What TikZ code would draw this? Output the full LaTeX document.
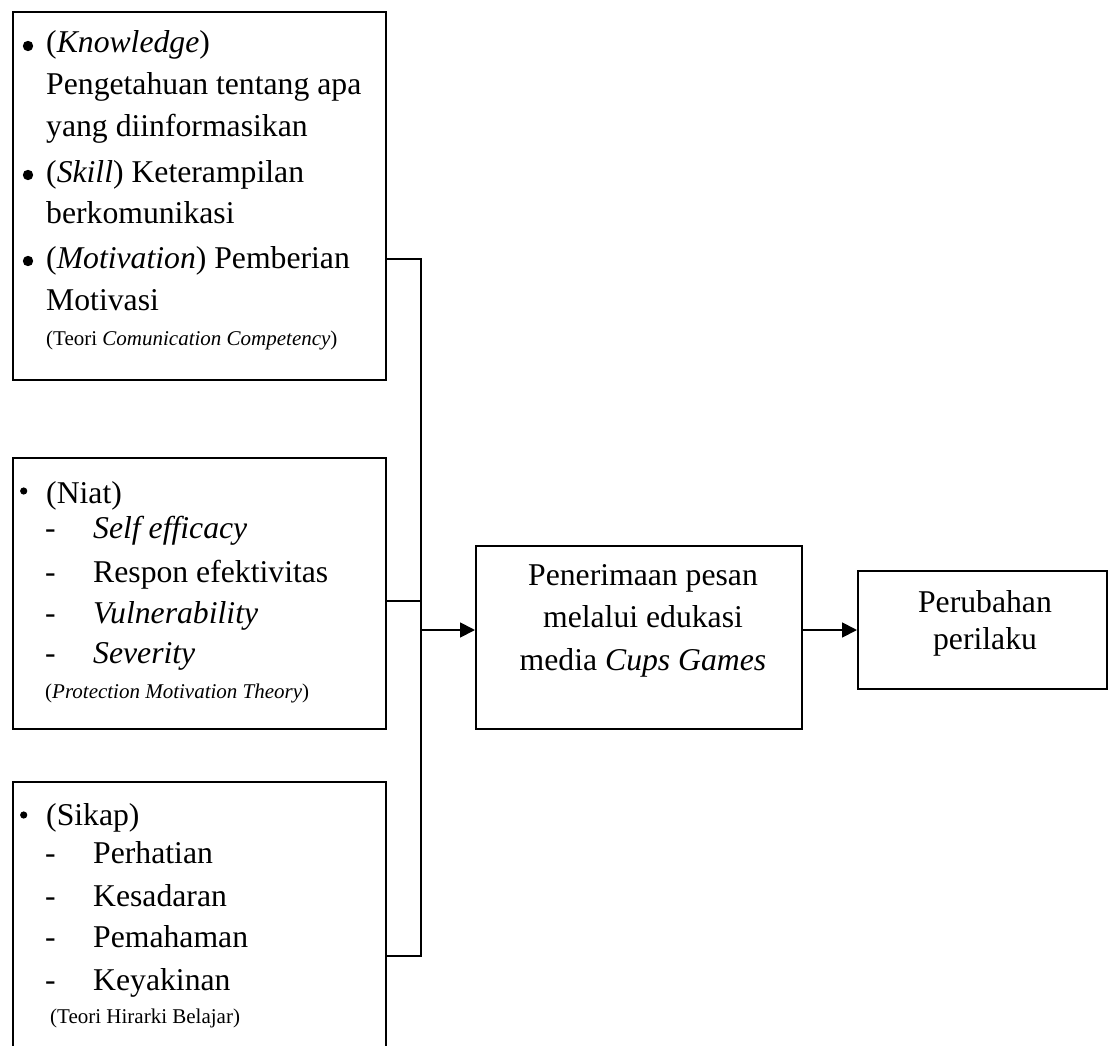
\documentclass[tikz,border=0pt]{standalone}
\usepackage{fontspec}
\setmainfont{Liberation Serif}
\usetikzlibrary{arrows.meta}
\tikzset{
  boxr/.style={draw, line width=1.8pt, rectangle, anchor=north west, inner sep=0pt},
  txt/.style={anchor=base west, inner sep=0pt, font=\fontsize{31.7}{38}\selectfont},
  ctxt/.style={anchor=base, inner sep=0pt, font=\fontsize{31.7}{38}\selectfont},
  sm/.style={anchor=base west, inner sep=0pt, font=\fontsize{21}{25}\selectfont},
  conn/.style={line width=1.8pt},
  arr/.style={line width=1.8pt, -{Triangle[length=15pt,width=15pt]}},
  dot/.style={fill=black, draw=none}
}
\begin{document}
\begin{tikzpicture}[x=1pt,y=-1pt]
\useasboundingbox (0,0) rectangle (1112,1046);
\clip (0,0) rectangle (1112,1046);
% boxes
\node[boxr, minimum width=373pt, minimum height=368pt] (b1) at (12,11) {};
\node[boxr, minimum width=373pt, minimum height=271pt] (b2) at (12,457) {};
\node[boxr, minimum width=373pt, minimum height=290pt] (b3) at (12,781) {};
\node[boxr, minimum width=326pt, minimum height=183pt] (mid) at (475,545) {};
\node[boxr, minimum width=249pt, minimum height=118pt] (out) at (857,570) {};
% box 1 text
\fill[dot] (28,46) circle (5.2);
\fill[dot] (28,175) circle (5.2);
\fill[dot] (28,261) circle (5.2);
\node[txt] (k1) at (46,53) {(\textit{Knowledge})};
\node[txt] (k2) at (46,95) {Pengetahuan tentang apa};
\node[txt] (k3) at (46,137) {yang diinformasikan};
\node[txt] (k4) at (46,183) {(\textit{Skill}) Keterampilan};
\node[txt] (k5) at (46,223) {berkomunikasi};
\node[txt] (k6) at (46,269) {(\textit{Motivation}) Pemberian};
\node[txt] (k7) at (46,310) {Motivasi};
\node[sm] (k8) at (46,345) {(Teori \textit{Comunication Competency})};
% box 2 text
\fill[dot] (23.7,491) circle (3.6);
\node[txt] (n1) at (46,503) {(Niat)};
\node[txt] (d1) at (45,538) {-};
\node[txt] (n2) at (93,538) {\textit{Self efficacy}};
\node[txt] (d2) at (45,582) {-};
\node[txt] (n3) at (93,582) {Respon efektivitas};
\node[txt] (d3) at (45,623) {-};
\node[txt] (n4) at (93,623) {\textit{Vulnerability}};
\node[txt] (d4) at (45,663) {-};
\node[txt] (n5) at (93,663) {\textit{Severity}};
\node[sm] (n6) at (45,698) {(\textit{Protection Motivation Theory})};
% box 3 text
\fill[dot] (23.7,815) circle (3.6);
\node[txt] (s1) at (46,825) {(Sikap)};
\node[txt] (e1) at (45,863) {-};
\node[txt] (s2) at (93,863) {Perhatian};
\node[txt] (e2) at (45,906) {-};
\node[txt] (s3) at (93,906) {Kesadaran};
\node[txt] (e3) at (45,947) {-};
\node[txt] (s4) at (93,947) {Pemahaman};
\node[txt] (e4) at (45,990) {-};
\node[txt] (s5) at (93,990) {Keyakinan};
\node[sm] (s6) at (50,1023) {(Teori Hirarki Belajar)};
% middle box text
\node[ctxt] (m1) at (643,585) {Penerimaan pesan};
\node[ctxt] (m2) at (643,627) {melalui edukasi};
\node[ctxt] (m3) at (643,670) {media \textit{Cups Games}};
% output box text
\node[ctxt] (o1) at (985,612) {Perubahan};
\node[ctxt] (o2) at (985,649) {perilaku};
% connectors
\coordinate (t1) at (421,259);
\coordinate (t2) at (421,601);
\coordinate (t3) at (421,956);
\coordinate (j) at (421,630);
\draw[conn] (t1 -| b1.east) -- (t1) -- (t3) -- (t3 -| b3.east);
\draw[conn] (t2 -| b2.east) -- (t2);
\draw[arr] (j) -- (j -| mid.west);
\draw[arr] (mid.east |- j) -- (out.west |- j);
\end{tikzpicture}
\end{document}
